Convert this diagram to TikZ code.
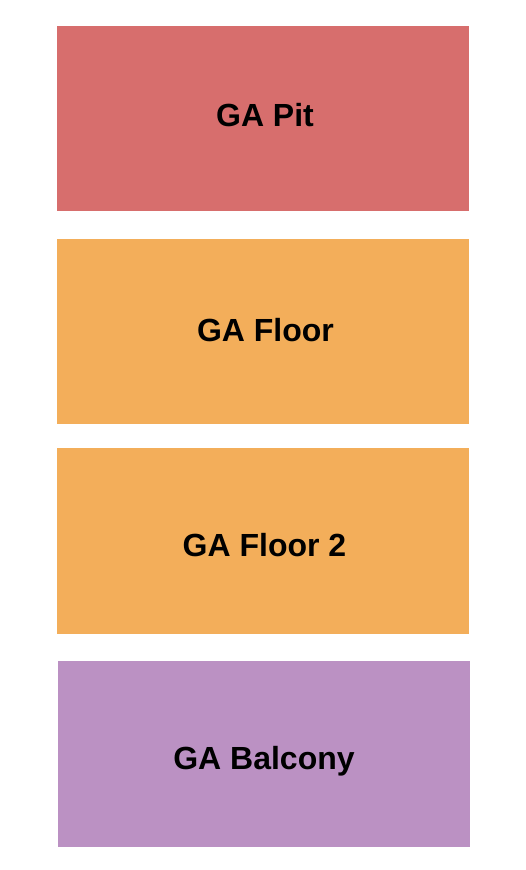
\documentclass[tikz,border=0pt]{standalone}
\usepackage{fontspec}
\setmainfont{Liberation Sans}
\definecolor{pitred}{HTML}{D76E6D}
\definecolor{floororange}{HTML}{F3AE5A}
\definecolor{balconypurple}{HTML}{BB91C3}
\begin{document}
\begin{tikzpicture}[x=1pt,y=-1pt,
  section/.style={fill=#1, draw=none, inner sep=0pt, minimum width=412pt},
  sectname/.style={font=\bfseries\fontsize{32}{32}\selectfont, anchor=base, inner sep=0pt}]
  \useasboundingbox (0,0) rectangle (525,870);
  \node[section=pitred, minimum height=185pt] (pit) at (263,118.5) {};
  \node[section=floororange, minimum height=185pt] (floor) at (263,331.5) {};
  \node[section=floororange, minimum height=186pt] (floor2) at (263,541) {};
  \node[section=balconypurple, minimum height=186pt] (balcony) at (264,754) {};
  \node[sectname] (pittext) at (265,126) {GA Pit};
  \node[sectname] (floortext) at (265.5,341) {GA Floor};
  \node[sectname] (floor2text) at (264.5,556) {GA Floor 2};
  \node[sectname] (balconytext) at (264,769) {GA Balcony};
\end{tikzpicture}
\end{document}
